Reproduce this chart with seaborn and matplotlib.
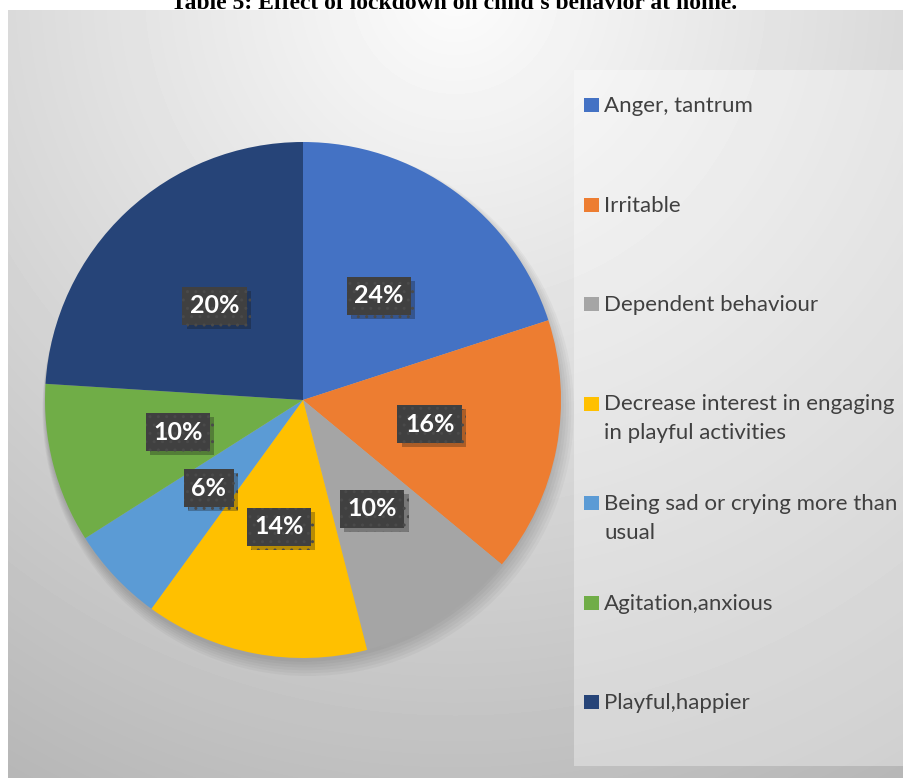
# Import Libraries
import numpy as np
import matplotlib.pyplot as plt
import matplotlib.patheffects as pe
from matplotlib.patches import Rectangle, Circle
import seaborn as sns

# Data
categories = [
    "Anger, tantrum",
    "Irritable",
    "Dependent behaviour",
    "Decrease interest in engaging\nin playful activities",
    "Being sad or crying more than\nusual",
    "Agitation,anxious",
    "Playful,happier",
]
slice_sizes = [20, 16, 10, 14, 6, 10, 24]
pct_labels = ["24%", "16%", "10%", "14%", "6%", "10%", "20%"]
slice_colors = ["#4472C4", "#ED7D31", "#A5A5A5", "#FFC000",
                "#5B9BD5", "#70AD47", "#264478"]

sns.set_style("white")
plt.rcParams['font.family'] = ['Lato', 'DejaVu Sans']
palette = sns.color_palette(slice_colors)

W, H = 908, 778
fig = plt.figure(figsize=(W / 100, H / 100), dpi=100)
fig.patch.set_facecolor("white")

# -----------------------------
# Chart area background (radial gradient)
# -----------------------------
bg = fig.add_axes([8 / W, 0, (903 - 8) / W, (778 - 10) / H])
yy, xx = np.mgrid[0:768, 0:895]
dist = np.hypot(xx - 447, yy + 20)
shade = 252 - 60 * np.clip(dist / 780, 0, 1.2)
bg.imshow(shade, cmap="gray", vmin=0, vmax=255, aspect="auto")
bg.axis("off")

# Title (cut off at top as in the source)
fig.text(0.5, 1 - 9 / H, "Table 5: Effect of lockdown on child's behavior at home.",
         ha="center", va="baseline", fontsize=17, fontweight="bold",
         family="Liberation Serif", color="black")

# Legend panel
fig.patches.append(Rectangle((574 / W, (778 - 766) / H), (905 - 574) / W, 696 / H,
                             transform=fig.transFigure, facecolor="white",
                             alpha=0.35, edgecolor="none", zorder=1))

# -----------------------------
# Pie
# -----------------------------
r_px = 258
cx, cy = 303, 778 - 400
ax = fig.add_axes([(cx - r_px) / W, (cy - r_px) / H, 2 * r_px / W, 2 * r_px / H])
ax.set_facecolor("none")

# soft shadow beneath pie
for k in range(6):
    ax.add_patch(Circle((0.004 * k, -0.015 - 0.005 * k), 1.0 + 0.006 * k,
                        facecolor="black", alpha=0.03, edgecolor="none",
                        zorder=0, clip_on=False))

wedges, texts, autotexts = ax.pie(
    slice_sizes, colors=palette, startangle=90, counterclock=False,
    autopct="%1.0f%%", pctdistance=0.5, radius=1,
    wedgeprops=dict(linewidth=0),
)
for t, s in zip(autotexts, pct_labels):
    t.set_text(s)
    t.set_color("white")
    t.set_fontsize(18)
    t.set_fontweight("bold")
    t.set_bbox(dict(boxstyle="square,pad=0.3", facecolor="#404040",
                    edgecolor="#4a4a4a", hatch="..", linewidth=0))
    t.get_bbox_patch().set_path_effects(
        [pe.withSimplePatchShadow(offset=(3, -3), alpha=0.3)])
ax.set_xlim(-1, 1)
ax.set_ylim(-1, 1)
ax.axis("off")

# -----------------------------
# Legend entries
# -----------------------------
for i, (lab, col) in enumerate(zip(categories, palette)):
    y_px = 105 + i * 99.5
    fig.patches.append(Rectangle((584 / W, 1 - (y_px + 7) / H), 15 / W, 14 / H,
                                 transform=fig.transFigure, facecolor=col,
                                 edgecolor="none", zorder=3))
    for j, line in enumerate(lab.split("\n")):
        fig.text(604 / W, 1 - (y_px + 7 + 29 * j) / H, line, ha="left",
                 va="baseline", fontsize=16, color="#404040", zorder=3)

plt.savefig("out.png", dpi=100)
